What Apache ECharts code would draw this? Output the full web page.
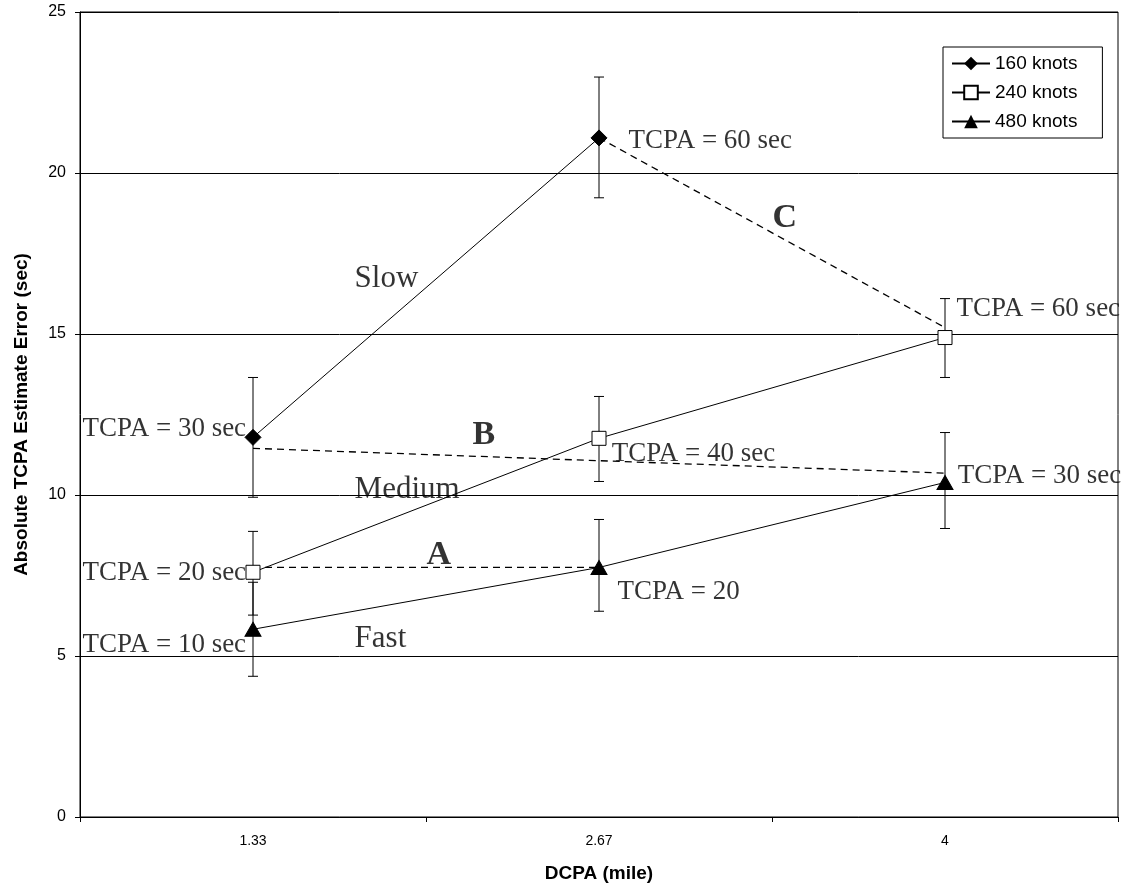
<!DOCTYPE html>
<html><head><meta charset="utf-8">
<script src="https://cdn.jsdelivr.net/npm/echarts@6/dist/echarts.min.js"></script>
<style>html,body{margin:0;padding:0;background:#fff}#c{width:1121px;height:888px}</style>
</head><body><div id="c"></div>
<script>
// ---- data ----
const categories = ['1.33', '2.67', '4'];
const seriesNames = ['160 knots', '240 knots', '480 knots'];
const knots160 = [11.79, 21.09, null];
const knots240 = [7.60, 11.76, 14.89];
const knots480 = [5.83, 7.75, 10.39];
// error bars: [categoryIndex, low, high]
const err160 = [[0, 9.93, 13.65], [1, 19.23, 22.98]];
const err240 = [[0, 6.27, 8.87], [1, 10.42, 13.06], [2, 13.65, 16.10]];
const err480 = [[0, 4.37, 7.29], [1, 6.39, 9.24], [2, 8.96, 11.94]];
// dashed comparison lines
const lineA = [7.75, 7.75, null];
const lineB = [11.45, null, 10.68];
const lineC = [null, 21.09, 15.20];
// annotations: [x (category units), y, text]
const tcpaNotes = [
  [-0.491, 12.05, 'TCPA = 30 sec'],
  [-0.491, 7.58, 'TCPA = 20 sec'],
  [-0.491, 5.32, 'TCPA = 10 sec'],
  [1.087, 20.98, 'TCPA = 60 sec'],
  [2.035, 15.77, 'TCPA = 60 sec'],
  [1.038, 11.27, 'TCPA = 40 sec'],
  [2.038, 10.59, 'TCPA = 30 sec'],
  [1.055, 6.96, 'TCPA = 20']
];
const speedNotes = [
  [0.295, 16.70, 'Slow'],
  [0.295, 10.15, 'Medium'],
  [0.295, 5.53, 'Fast']
];
const segmentNotes = [
  [0.503, 8.10, 'A'],
  [0.636, 11.85, 'B'],
  [1.503, 18.58, 'C']
];
const yMin = 0, yMax = 25, yStep = 5;

// ---- chart ----
const chart = echarts.init(document.getElementById('c'));
const SANS = 'Liberation Sans, Arial, sans-serif';
const SERIF = 'Liberation Serif, Times New Roman, serif';

function errorBars(name, data) {
  return {
    type: 'custom', name: name + ' err', data: data, z: 1, silent: true,
    xAxisIndex: 0, yAxisIndex: 0,
    renderItem: function (params, api) {
      const x = api.value(0);
      const lo = api.coord([x, api.value(1)]);
      const hi = api.coord([x, api.value(2)]);
      const hw = 5;
      const st = { stroke: '#000', lineWidth: 1 };
      return {
        type: 'group', children: [
          { type: 'line', shape: { x1: lo[0], y1: lo[1], x2: hi[0], y2: hi[1] }, style: st },
          { type: 'line', shape: { x1: lo[0] - hw, y1: lo[1], x2: lo[0] + hw, y2: lo[1] }, style: st },
          { type: 'line', shape: { x1: hi[0] - hw, y1: hi[1], x2: hi[0] + hw, y2: hi[1] }, style: st }
        ]
      };
    }
  };
}
function dashed(data) {
  return {
    type: 'line', data: data, connectNulls: true, showSymbol: false, symbol: 'none',
    lineStyle: { color: '#000', width: 1.3, type: [7, 5] }, z: 2, silent: true
  };
}
function notes(data, font) {
  return {
    type: 'scatter', xAxisIndex: 1, yAxisIndex: 0, symbolSize: 1, silent: true, z: 5,
    itemStyle: { color: 'transparent' },
    data: data.map(d => ({ value: [d[0], d[1]], name: d[2] })),
    label: Object.assign({
      show: true, position: [0, 0], align: 'left', verticalAlign: 'middle',
      formatter: p => p.name, color: '#000', fontFamily: SERIF
    }, font)
  };
}

chart.setOption({
  animation: false,
  backgroundColor: '#fff',
  grid: { left: 80, right: 3, top: 12, bottom: 70, show: true, borderColor: '#000', borderWidth: 1 },
  legend: {
    data: seriesNames, orient: 'vertical', left: 943, top: 47,
    padding: [7, 25, 7, 8], itemGap: 10, itemWidth: 38, itemHeight: 17,
    borderColor: '#000', borderWidth: 1, borderRadius: 0, backgroundColor: '#fff',
    textStyle: { fontFamily: SANS, fontSize: 19, color: '#000' }
  },
  xAxis: [{
    type: 'category', data: categories, boundaryGap: true,
    axisLine: { onZero: false, lineStyle: { color: '#000', width: 1 } },
    axisTick: { show: true, length: 5, lineStyle: { color: '#000' } },
    axisLabel: { color: '#000', fontFamily: SANS, fontSize: 14, margin: 17 },
    name: 'DCPA (mile)', nameLocation: 'middle', nameGap: 47,
    nameTextStyle: { fontFamily: SANS, fontSize: 19, fontWeight: 'bold', color: '#000' }
  }, {
    type: 'value', min: -0.5, max: 2.5, show: false,
    axisLine: { show: false, onZero: false }, splitLine: { show: false }
  }],
  yAxis: {
    type: 'value', min: yMin, max: yMax, interval: yStep,
    axisLine: { show: true, onZero: false, lineStyle: { color: '#000' } },
    axisTick: { show: true, length: 5, lineStyle: { color: '#000' } },
    axisLabel: { color: '#000', fontFamily: SANS, fontSize: 16, margin: 14 },
    splitLine: { show: true, lineStyle: { color: '#000', width: 1 } },
    name: 'Absolute TCPA Estimate Error (sec)', nameLocation: 'middle', nameGap: 49,
    nameTextStyle: { fontFamily: SANS, fontSize: 19, fontWeight: 'bold', color: '#000' }
  },
  series: [
    errorBars('160', err160), errorBars('240', err240), errorBars('480', err480),
    dashed(lineA), dashed(lineB), dashed(lineC),
    {
      type: 'line', name: seriesNames[0], data: knots160, symbol: 'diamond', symbolSize: [16, 16],
      lineStyle: { color: '#000', width: 1 }, itemStyle: { color: '#000', borderColor: '#000' }, z: 3
    },
    {
      type: 'line', name: seriesNames[1], data: knots240, symbol: 'rect', symbolSize: [14, 14],
      lineStyle: { color: '#000', width: 1 }, itemStyle: { color: '#fff', borderColor: '#000', borderWidth: 1 }, z: 3
    },
    {
      type: 'line', name: seriesNames[2], data: knots480, symbol: 'triangle', symbolSize: [16, 14],
      lineStyle: { color: '#000', width: 1 }, itemStyle: { color: '#000', borderColor: '#000' }, z: 3
    },
    notes(tcpaNotes, { fontSize: 27 }),
    notes(speedNotes, { fontSize: 31 }),
    notes(segmentNotes, { fontSize: 34, fontWeight: 'bold' })
  ]
});
</script></body></html>
